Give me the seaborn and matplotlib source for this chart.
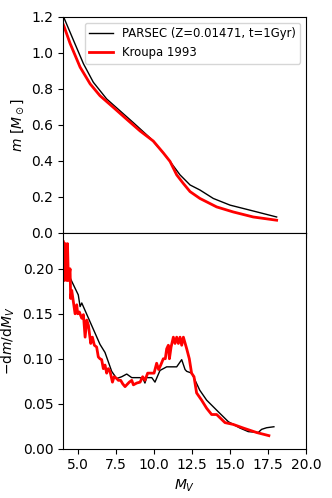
import matplotlib
matplotlib.use('Agg')

import numpy as np
import pandas as pd
import matplotlib.pyplot as plt
import seaborn as sns
from matplotlib.ticker import MultipleLocator

# Mass-luminosity relation m(M_V)
parsec_mv = [4.0, 4.07, 4.68, 5.34, 5.99, 6.87, 7.75, 8.63, 9.72, 10.6, 11.04,
             11.7, 12.36, 13.01, 13.89, 14.99, 16.3, 18.06]
parsec_m = [1.205, 1.193, 1.071, 0.94, 0.837, 0.744, 0.678, 0.612, 0.528,
            0.444, 0.397, 0.322, 0.266, 0.238, 0.191, 0.154, 0.126, 0.088]

kroupa_mv = [4.0, 4.07, 4.46, 5.12, 5.78, 6.43, 7.31, 8.19, 9.07, 9.94, 10.6,
             11.04, 11.48, 11.91, 12.36, 13.01, 14.11, 15.2, 16.52, 18.06]
kroupa_m = [1.16, 1.146, 1.053, 0.921, 0.828, 0.762, 0.697, 0.631, 0.566,
            0.51, 0.444, 0.397, 0.322, 0.275, 0.229, 0.191, 0.144, 0.116,
            0.088, 0.07]

# Derivative -dm/dM_V
parsec_dmv = [4.05, 4.46, 5.0, 5.12, 5.23, 6.43, 6.76, 7.2, 7.53, 7.86, 8.19,
              8.52, 9.07, 9.28, 9.39, 9.5, 9.84, 10.05, 10.38, 10.82, 11.48,
              11.81, 12.03, 12.14, 12.47, 13.0, 13.45, 14.22, 14.88, 15.64,
              16.19, 16.85, 17.07, 17.4, 17.88]
parsec_dm = [0.205, 0.19, 0.171, 0.158, 0.162, 0.116, 0.107, 0.086, 0.078,
             0.080, 0.083, 0.079, 0.079, 0.077, 0.073, 0.079, 0.079, 0.074,
             0.087, 0.091, 0.091, 0.099, 0.088, 0.086, 0.084, 0.065, 0.054,
             0.041, 0.030, 0.023, 0.019, 0.018, 0.0215, 0.0233, 0.0244]

kroupa_dmv = [4.02, 4.09, 4.15, 4.24, 4.29, 4.35, 4.46, 4.50, 4.57, 4.68, 4.79,
              4.90, 4.96, 5.07, 5.23, 5.34, 5.45, 5.56, 5.67, 5.82, 5.93, 6.06,
              6.21, 6.32, 6.43, 6.54, 6.65, 6.76, 6.87, 6.98, 7.09, 7.25, 7.36,
              7.53, 7.64, 7.79, 7.93, 8.08, 8.19, 8.36, 8.52, 8.63, 8.85, 9.07,
              9.24, 9.39, 9.57, 9.77, 9.99, 10.16, 10.29, 10.43, 10.60, 10.73,
              10.82, 10.93, 11.00, 11.11, 11.26, 11.37, 11.48, 11.59, 11.70,
              11.81, 11.92, 12.14, 12.31, 12.46, 12.62, 12.79, 13.12, 13.45,
              13.78, 14.11, 14.66, 15.2, 15.86, 16.74, 17.55]
kroupa_dm = [0.23, 0.187, 0.228, 0.187, 0.228, 0.187, 0.200, 0.167, 0.176,
             0.163, 0.150, 0.160, 0.150, 0.152, 0.145, 0.149, 0.124, 0.143,
             0.137, 0.117, 0.124, 0.115, 0.113, 0.102, 0.100, 0.099, 0.089,
             0.093, 0.084, 0.089, 0.086, 0.074, 0.080, 0.078, 0.076, 0.076,
             0.072, 0.069, 0.071, 0.074, 0.076, 0.071, 0.073, 0.074, 0.080,
             0.076, 0.084, 0.084, 0.084, 0.095, 0.088, 0.093, 0.100, 0.100,
             0.111, 0.115, 0.100, 0.113, 0.124, 0.117, 0.124, 0.117, 0.124,
             0.115, 0.124, 0.111, 0.100, 0.084, 0.080, 0.062, 0.054, 0.045,
             0.038, 0.038, 0.029, 0.027, 0.023, 0.018, 0.0145]

fig, (ax1, ax2) = plt.subplots(2, 1, figsize=(3.32, 4.98), dpi=100, sharex=True)
fig.subplots_adjust(left=0.19, right=0.922, top=0.966, bottom=0.099, hspace=0)

sns.lineplot(x=parsec_mv, y=parsec_m, ax=ax1, color='black', lw=1,
             sort=False, estimator=None, label='PARSEC (Z=0.01471, t=1Gyr)')
sns.lineplot(x=kroupa_mv, y=kroupa_m, ax=ax1, color='red', lw=2,
             sort=False, estimator=None, label='Kroupa 1993')
ax1.set_ylim(0, 1.2)
ax1.set_ylabel(r'$m\ [M_\odot]$')
ax1.legend(loc='upper right', fontsize='small')

sns.lineplot(x=parsec_dmv, y=parsec_dm, ax=ax2, color='black', lw=1,
             sort=False, estimator=None)
sns.lineplot(x=kroupa_dmv, y=kroupa_dm, ax=ax2, color='red', lw=2,
             sort=False, estimator=None)
ax2.set_ylim(0, 0.24)
ax2.set_xlim(4, 20)
ax2.xaxis.set_major_locator(MultipleLocator(2.5))
ax2.yaxis.set_major_locator(MultipleLocator(0.05))
ax2.set_ylabel(r'$-\mathrm{d}m/\mathrm{d}M_V$')
ax2.set_xlabel(r'$M_V$')

plt.savefig('out.png', dpi=100)
